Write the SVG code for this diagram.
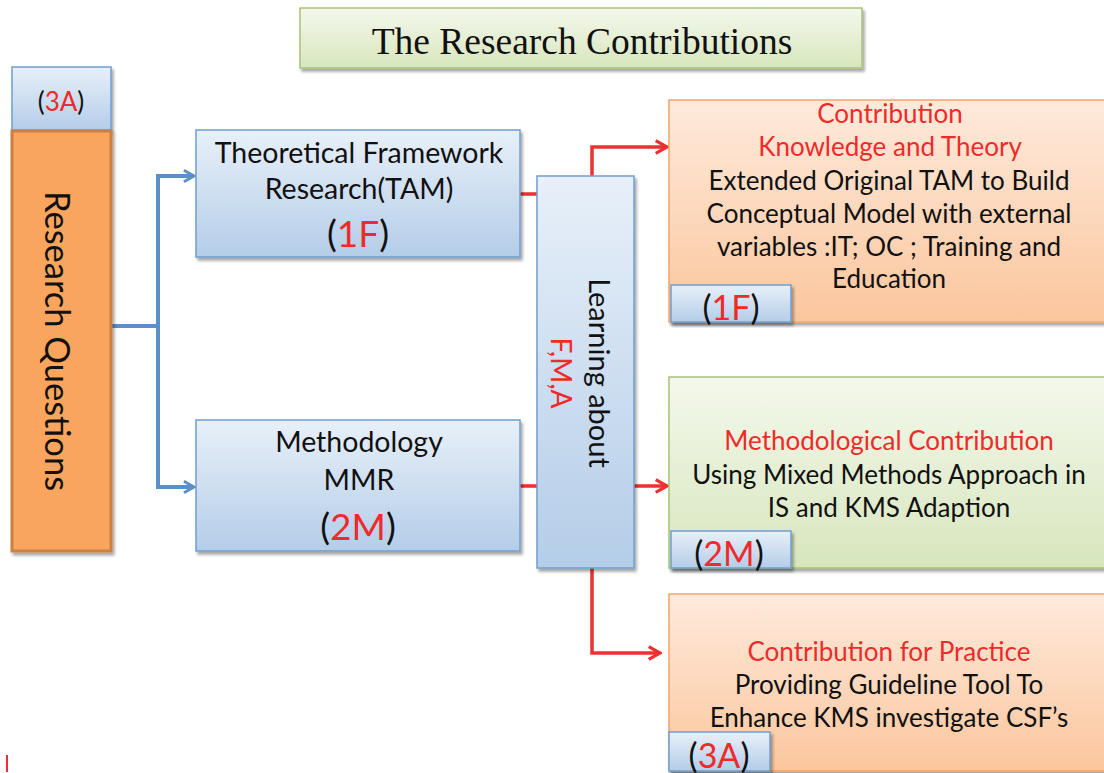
<svg xmlns="http://www.w3.org/2000/svg" width="1104" height="773" viewBox="0 0 1104 773">
  <defs>
    <linearGradient id="gBlue" x1="0" y1="0" x2="0" y2="1">
      <stop offset="0" stop-color="#e8f0f9"/>
      <stop offset="1" stop-color="#b4cde8"/>
    </linearGradient>
    <linearGradient id="gGreen" x1="0" y1="0" x2="0" y2="1">
      <stop offset="0" stop-color="#f4f8ec"/>
      <stop offset="1" stop-color="#d7e6bd"/>
    </linearGradient>
    <linearGradient id="gPeach" x1="0" y1="0" x2="0" y2="1">
      <stop offset="0" stop-color="#feeadc"/>
      <stop offset="1" stop-color="#fbc69d"/>
    </linearGradient>
    <filter id="shadow" x="-10%" y="-10%" width="125%" height="125%">
      <feDropShadow dx="2" dy="3" stdDeviation="1.5" flood-color="#000" flood-opacity="0.35"/>
    </filter>
    <marker id="arrBlue" viewBox="0 0 10 10" refX="8.5" refY="5" markerWidth="3.6" markerHeight="3.6" orient="auto" markerUnits="strokeWidth">
      <path d="M1.5,1 L8.5,5 L1.5,9" fill="none" stroke="#5b8fc7" stroke-width="2"/>
    </marker>
    <marker id="arrRed" viewBox="0 0 10 10" refX="8.5" refY="5" markerWidth="4.6" markerHeight="4.6" orient="auto" markerUnits="strokeWidth">
      <path d="M1.5,1 L8.5,5 L1.5,9" fill="none" stroke="#ee3030" stroke-width="2"/>
    </marker>
  </defs>
  <style>
    .blue { fill: url(#gBlue); stroke: #6f9ed0; stroke-width: 1.5; filter: url(#shadow); }
    .green { fill: url(#gGreen); stroke: #a9c27a; stroke-width: 1.5; filter: url(#shadow); }
    .peach { fill: url(#gPeach); stroke: #f5a46a; stroke-width: 1.5; filter: url(#shadow); }
    .t { font-family: Lato, "Liberation Sans", sans-serif; fill: #111; text-anchor: middle; }
    .r { fill: #ee2b2b; }
    .blueLine { fill: none; stroke: #5b8fc7; stroke-width: 4; }
    .redLine { fill: none; stroke: #ee3030; stroke-width: 3.5; }
  </style>

  <rect width="1104" height="773" fill="#ffffff"/>

  <!-- connectors -->
  <g id="connectors">
    <path class="blueLine" d="M112,326 H158"/>
    <path class="blueLine" d="M158,176 V487"/>
    <path class="blueLine" d="M156,176 H194" marker-end="url(#arrBlue)"/>
    <path class="blueLine" d="M156,487 H194" marker-end="url(#arrBlue)"/>
    <path class="redLine" d="M520,194 H538"/>
    <path class="redLine" d="M520,486 H538"/>
    <path class="redLine" d="M592,178 V147 H667" marker-end="url(#arrRed)"/>
    <path class="redLine" d="M634,486 H667" marker-end="url(#arrRed)"/>
    <path class="redLine" d="M592,566 V653 H660" marker-end="url(#arrRed)"/>
    <path d="M7,755 V772" stroke="#ee3030" stroke-width="2"/>
  </g>

  <!-- title -->
  <g id="title">
    <rect x="300" y="8" width="562" height="60" class="green"/>
    <text x="582" y="54" font-family="'Liberation Serif', serif" font-size="37.5" fill="#111" text-anchor="middle">The Research Contributions</text>
  </g>

  <!-- research questions -->
  <g id="rq-tag">
    <rect x="12" y="67" width="99" height="63" class="blue"/>
    <text x="61" y="111" class="t" font-size="26">(<tspan class="r">3A</tspan>)</text>
  </g>
  <g id="research-questions">
    <rect x="12" y="131" width="99" height="420" fill="#f9a55d" stroke="#c98043" stroke-width="3" filter="url(#shadow)"/>
    <text transform="translate(58,341) rotate(90)" class="t" font-size="34.5" dominant-baseline="central">Research Questions</text>
  </g>

  <!-- framework -->
  <g id="framework">
    <rect x="196" y="130" width="324" height="127" class="blue"/>
    <text x="359" y="163" class="t" font-size="28.5">Theoretical Framework</text>
    <text x="359" y="199" class="t" font-size="28.5">Research(TAM)</text>
    <text x="358" y="247" class="t" font-size="37">(<tspan class="r">1F</tspan>)</text>
  </g>

  <!-- methodology -->
  <g id="methodology">
    <rect x="196" y="420" width="324" height="131" class="blue"/>
    <text x="359" y="452" class="t" font-size="28.5">Methodology</text>
    <text x="359" y="490" class="t" font-size="28.5">MMR</text>
    <text x="358" y="540" class="t" font-size="37">(<tspan class="r">2M</tspan>)</text>
  </g>

  <!-- learning -->
  <g id="learning">
    <rect x="537" y="176" width="97" height="392" class="blue"/>
    <text transform="translate(600,373) rotate(90)" class="t" font-size="29" dominant-baseline="central">Learning about</text>
    <text transform="translate(562,373) rotate(90)" class="t r" font-size="28" dominant-baseline="central">F,M,A</text>
  </g>

  <!-- knowledge contribution -->
  <g id="knowledge">
    <rect x="669" y="100" width="440" height="222" class="peach"/>
    <text x="890" y="123" class="t r" font-size="26">Contribution</text>
    <text x="890" y="156" class="t r" font-size="26">Knowledge and Theory</text>
    <text x="889" y="190" class="t" font-size="26">Extended Original TAM to Build</text>
    <text x="889" y="223" class="t" font-size="26">Conceptual Model with external</text>
    <text x="889" y="256" class="t" font-size="26">variables :IT; OC ; Training and</text>
    <text x="889" y="288" class="t" font-size="26">Education</text>
    <rect x="671" y="285" width="120" height="37" class="blue"/>
    <text x="731" y="320" class="t" font-size="34">(<tspan class="r">1F</tspan>)</text>
  </g>

  <!-- methodological contribution -->
  <g id="method-contribution">
    <rect x="669" y="377" width="440" height="191" class="green"/>
    <text x="889" y="450" class="t r" font-size="26">Methodological Contribution</text>
    <text x="889" y="484" class="t" font-size="26">Using Mixed Methods Approach in</text>
    <text x="889" y="517" class="t" font-size="26">IS and KMS Adaption</text>
    <rect x="671" y="531" width="120" height="37" class="blue"/>
    <text x="729" y="566" class="t" font-size="34">(<tspan class="r">2M</tspan>)</text>
  </g>

  <!-- practice contribution -->
  <g id="practice">
    <rect x="669" y="594" width="440" height="177" class="peach"/>
    <text x="889" y="661" class="t r" font-size="26">Contribution for Practice</text>
    <text x="889" y="694" class="t" font-size="26">Providing Guideline Tool To</text>
    <text x="889" y="727" class="t" font-size="26">Enhance KMS investigate CSF’s</text>
    <rect x="669" y="732" width="101" height="39" class="blue"/>
    <text x="719" y="768" class="t" font-size="34">(<tspan class="r">3A</tspan>)</text>
  </g>
</svg>
